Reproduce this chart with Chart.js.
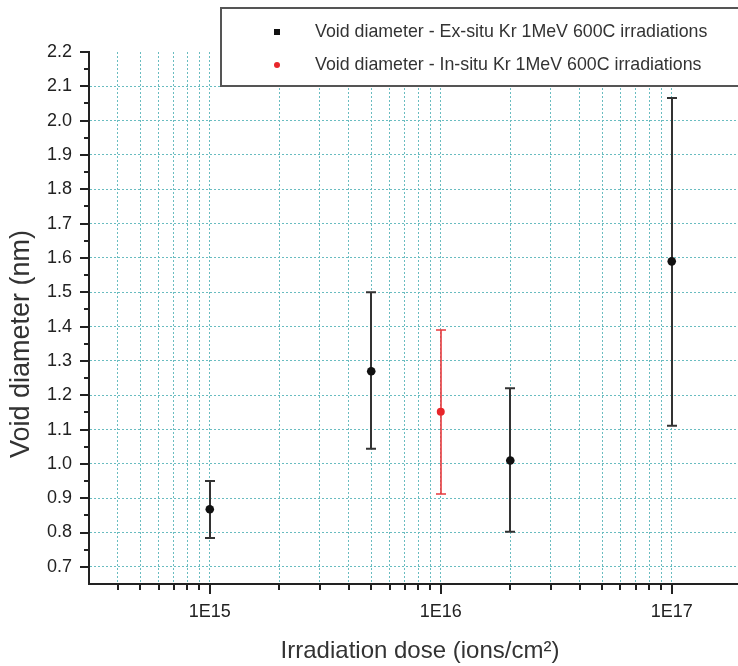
<!DOCTYPE html>
<html><head><meta charset="utf-8">
<script src="https://cdn.jsdelivr.net/npm/chart.js@4"></script>
<style>html,body{margin:0;padding:0;background:#fff;overflow:hidden}#wrap{width:738px;height:666px;position:relative;overflow:hidden}</style>
</head><body><div id="wrap"><canvas id="c" width="742" height="666"></canvas></div>
<script>
// ---- data ----
const exSituDose = [1e15, 5e15, 2e16, 1e17];
const exSituMean = [0.868, 1.27, 1.01, 1.59];
const exSituLow  = [0.784, 1.044, 0.802, 1.111];
const exSituHigh = [0.95, 1.50, 1.22, 2.066];
const inSituDose = [1e16];
const inSituMean = [1.152];
const inSituLow  = [0.912];
const inSituHigh = [1.39];
const seriesLabels = ['Void diameter - Ex-situ Kr 1MeV 600C irradiations',
                      'Void diameter - In-situ Kr 1MeV 600C irradiations'];
const xTickValues = [4e14,5e14,6e14,7e14,8e14,9e14,
                     1e15,2e15,3e15,4e15,5e15,6e15,7e15,8e15,9e15,
                     1e16,2e16,3e16,4e16,5e16,6e16,7e16,8e16,9e16,1e17];
const xTickLabels = {15:'1E15', 16:'1E16', 17:'1E17'};
const yTickValues = [0.7,0.8,0.9,1.0,1.1,1.2,1.3,1.4,1.5,1.6,1.7,1.8,1.9,2.0,2.1,2.2];
const yMinorTickValues = [0.75,0.85,0.95,1.05,1.15,1.25,1.35,1.45,1.55,1.65,1.75,1.85,1.95,2.05,2.15];
const xTitle = 'Irradiation dose (ions/cm\u00B2)';
const yTitle = 'Void diameter (nm)';

const X_MIN = 3e14, X_MAX = 1.93e17;
const FONT = "'Liberation Sans', Arial, Helvetica, sans-serif";
const GRID = 'rgb(105,188,192)';
const NONE = 'rgba(0,0,0,0)';

function isDecade(v){ const e = Math.log10(v); return Math.abs(e - Math.round(e)) < 1e-9; }

const errorBars = {
  id:'errorBars',
  beforeDatasetsDraw(chart){
    const {ctx, scales:{x, y}} = chart;
    chart.data.datasets.forEach(ds => {
      ctx.save();
      ctx.strokeStyle = ds.errColor; ctx.lineWidth = ds.errWidth;
      ds.data.forEach(p => {
        const px = Math.round(x.getPixelForValue(p.x));
        const y1 = y.getPixelForValue(p.yMin), y2 = y.getPixelForValue(p.yMax);
        ctx.beginPath();
        ctx.moveTo(px, y1); ctx.lineTo(px, y2);
        ctx.moveTo(px-5, y1); ctx.lineTo(px+5, y1);
        ctx.moveTo(px-5, y2); ctx.lineTo(px+5, y2);
        ctx.stroke();
      });
      ctx.restore();
    });
  }
};

const axisTicks = {
  id:'axisTicks',
  afterDraw(chart){
    const {ctx, scales:{x, y}, chartArea:a} = chart;
    ctx.save();
    ctx.strokeStyle = '#222'; ctx.lineWidth = 2;
    ctx.beginPath();
    yTickValues.forEach(v => { const py = Math.round(y.getPixelForValue(v)); ctx.moveTo(a.left-9, py); ctx.lineTo(a.left, py); });
    yMinorTickValues.forEach(v => { const py = Math.round(y.getPixelForValue(v)); ctx.moveTo(a.left-5, py); ctx.lineTo(a.left, py); });
    xTickValues.forEach(v => { const px = Math.round(x.getPixelForValue(v)); ctx.moveTo(px, a.bottom); ctx.lineTo(px, a.bottom + (isDecade(v) ? 10 : 6)); });
    ctx.stroke();
    ctx.restore();
  }
};

const legendBox = {
  id:'legendBox',
  afterDraw(chart){
    const {ctx} = chart;
    ctx.save();
    ctx.fillStyle = '#fff';
    ctx.fillRect(221, 8, 540, 78);
    ctx.strokeStyle = '#555'; ctx.lineWidth = 2;
    ctx.strokeRect(221, 8, 540, 78);
    const ds = chart.data.datasets;
    ctx.fillStyle = ds[0].backgroundColor;
    ctx.fillRect(274, 29, 6, 6);
    ctx.fillStyle = ds[1].backgroundColor;
    ctx.beginPath(); ctx.arc(277, 65, 3, 0, Math.PI*2); ctx.fill();
    ctx.fillStyle = '#333';
    ctx.font = '17.8px ' + FONT;
    ctx.textBaseline = 'middle';
    ctx.fillText(ds[0].label, 315, 32);
    ctx.fillText(ds[1].label, 315, 65);
    ctx.restore();
  }
};

const axisTitles = {
  id:'axisTitles',
  afterDraw(chart){
    const {ctx} = chart;
    ctx.save();
    ctx.fillStyle = '#333';
    ctx.textAlign = 'center'; ctx.textBaseline = 'middle';
    ctx.font = '24px ' + FONT;
    ctx.fillText(xTitle, 420, 651);
    ctx.translate(22, 344);
    ctx.rotate(-Math.PI/2);
    ctx.font = '27px ' + FONT;
    ctx.fillText(yTitle, 0, 0);
    ctx.restore();
  }
};

new Chart(document.getElementById('c'), {
  type:'scatter',
  data:{datasets:[
    {label:seriesLabels[0],
     data:exSituDose.map((d,i)=>({x:d, y:exSituMean[i], yMin:exSituLow[i], yMax:exSituHigh[i]})),
     backgroundColor:'#111', borderColor:'#111', pointRadius:4.3, pointBorderWidth:0,
     errColor:'#333', errWidth:2},
    {label:seriesLabels[1],
     data:inSituDose.map((d,i)=>({x:d, y:inSituMean[i], yMin:inSituLow[i], yMax:inSituHigh[i]})),
     backgroundColor:'#e8262a', borderColor:'#e8262a', pointRadius:4, pointBorderWidth:0,
     errColor:'#e8393c', errWidth:1.6}
  ]},
  options:{
    responsive:false, animation:false, devicePixelRatio:1,
    layout:{padding:{top:52, right:0, left:0, bottom:0}},
    plugins:{legend:{display:false}, tooltip:{enabled:false}},
    scales:{
      x:{type:'logarithmic', min:X_MIN, max:X_MAX,
         afterBuildTicks: s => { s.ticks = xTickValues.map(v => ({value:v})).concat([{value:X_MAX}]); },
         afterFit: s => { s.height = 82; },
         ticks:{autoSkip:false, maxRotation:0, minRotation:0, padding:0, color:'#222',
                font:{family:FONT, size:18, lineHeight:3.1},
                callback:(v) => isDecade(v) ? (xTickLabels[Math.round(Math.log10(v))] || '') : ''},
         grid:{color: c => (c.tick && c.tick.value >= X_MAX*0.999) ? NONE : GRID, lineWidth:1, drawTicks:false},
         border:{display:true, color:'#222', width:2, dash:[2,2]}
      },
      y:{min:0.65, max:2.2,
         afterBuildTicks: s => { s.ticks = yTickValues.map(v => ({value:v})); },
         afterFit: s => { s.width = 89; },
         ticks:{autoSkip:false, padding:17, color:'#222', font:{family:FONT, size:18},
                callback:(v) => Number(v).toFixed(1)},
         grid:{color: c => (c.tick && c.tick.value > 2.15) ? NONE : GRID, lineWidth:1, drawTicks:false},
         border:{display:true, color:'#222', width:2, dash:[2,2]}
      }
    }
  },
  plugins:[errorBars, axisTicks, legendBox, axisTitles]
});
</script>
</body></html>
